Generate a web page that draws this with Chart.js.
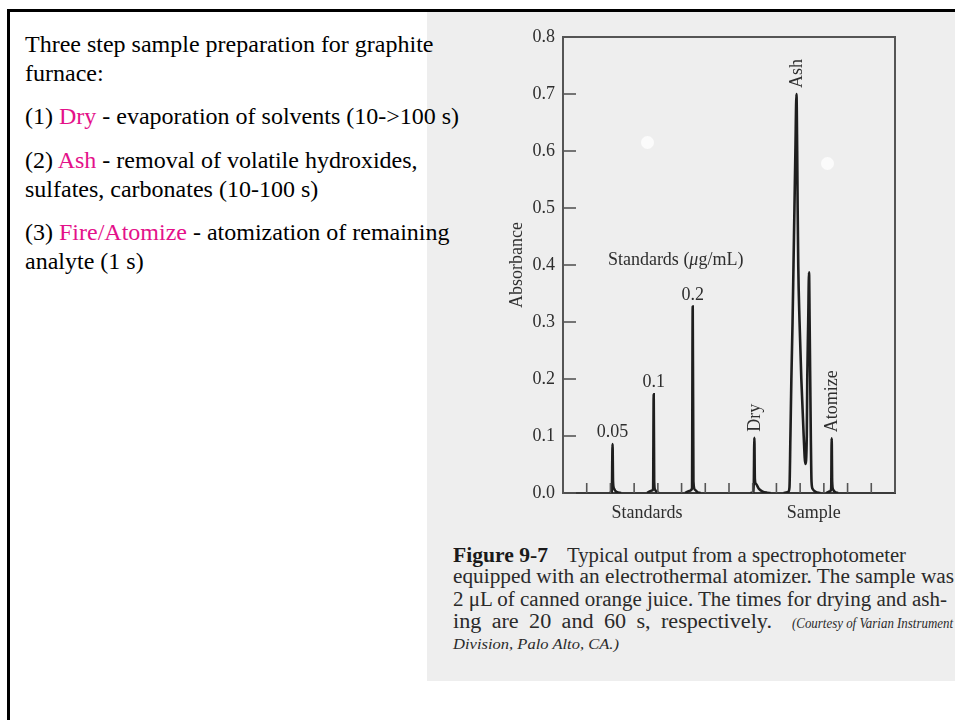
<!DOCTYPE html>
<html>
<head>
<meta charset="utf-8">
<script src="https://cdn.jsdelivr.net/npm/chart.js@4.4.0/dist/chart.umd.min.js"></script>
<style>
  html, body { margin: 0; padding: 0; background: #fff; }
  body { width: 955px; height: 720px; overflow: hidden; position: relative; font-family: "Liberation Serif", "Times New Roman", serif; }
  #frame { position: absolute; left: 7px; top: 9px; width: 1000px; height: 800px; border-top: 3px solid #000; border-left: 3px solid #000; }
  #paper { position: absolute; left: 427px; top: 12px; width: 528px; height: 669px; background: #eeeeee; }
  .spot { position: absolute; width: 13px; height: 13px; border-radius: 50%; background: #fbfbfb; }
  #chartBox { position: absolute; left: 427px; top: 12px; width: 528px; height: 520px; }
  #notes { position: absolute; left: 25px; top: 30px; font-size: 24px; line-height: 29px; color: #000; white-space: nowrap; }
  #notes p { margin: 0 0 14.3px 0; }
  .hl { color: #e4118a; }
  .cap { position: absolute; white-space: nowrap; color: #2a2a2a; font-size: 20.5px; line-height: 22px; transform-origin: 0 0; display: inline-block; }
  .cap.it { font-style: italic; font-size: 15px; }
  .cap.bd { font-weight: bold; color: #1a1a1a; }
</style>
</head>
<body>
<div id="frame"></div>
<div id="paper">
  <div class="spot" style="left:214px; top:124px;"></div>
  <div class="spot" style="left:394px; top:145px;"></div>
</div>
<div id="notes">
  <p>Three step sample preparation for graphite<br>furnace:</p>
  <p>(1) <span class="hl">Dry</span> - evaporation of solvents (10-&gt;100 s)</p>
  <p>(2) <span class="hl">Ash</span> - removal of volatile hydroxides,<br>sulfates, carbonates (10-100 s)</p>
  <p>(3) <span class="hl">Fire/Atomize</span> - atomization of remaining<br>analyte (1 s)</p>
</div>
<div id="chartBox"><canvas id="chart" width="528" height="520"></canvas></div>

<span class="cap bd" data-w="95" style="left:453px; top:543.8px;">Figure 9-7</span>
<span class="cap" data-w="339" style="left:567px; top:543.8px;">Typical output from a spectrophotometer</span>
<span class="cap" data-w="501" style="left:453px; top:565.4px;">equipped with an electrothermal atomizer. The sample was</span>
<span class="cap" data-w="494" style="left:453px; top:587.8px;">2 μL of canned orange juice. The times for drying and ash-</span>
<span class="cap" data-w="319" style="left:453px; top:609.8px;">ing are 20 and 60 s, respectively.</span>
<span class="cap it" data-w="161" style="left:792px; top:611.6px;">(Courtesy of Varian Instrument</span>
<span class="cap it" data-w="166" style="left:453px; top:633.2px;">Division, Palo Alto, CA.)</span>

<script>
// time axis (arbitrary units) and absorbance of the recorder trace; null = pen lifted
const traceX = [
  1.95, 2.06, 2.09, 2.11, 2.15, 2.25, 2.45,
  3.0,
  3.55, 3.72, 3.80, 3.825, 3.845, 3.88, 3.97, 4.05,
  4.5,
  5.15, 5.35, 5.44, 5.47, 5.50, 5.56, 5.68, 5.8,
  7.0,
  7.9, 8.04, 8.07, 8.09, 8.14, 8.25, 8.4, 8.6, 8.75,
  9.0,
  9.3, 9.50, 9.55, 9.59, 9.63, 9.68, 9.72, 9.76, 9.80, 9.845, 9.875, 9.895, 9.92, 9.975,
  10.05, 10.15, 10.22, 10.28, 10.30, 10.34, 10.375, 10.40, 10.45, 10.48, 10.53, 10.65, 10.85,
  11.0,
  11.1, 11.27, 11.31, 11.33, 11.35, 11.39, 11.5, 11.6
];
const traceY = [
  0, 0.002, 0.086, 0.02, 0.008, 0.002, 0,
  null,
  0, 0.004, 0.006, 0.173, 0.02, 0.006, 0.001, 0,
  null,
  0, 0.004, 0.008, 0.327, 0.02, 0.006, 0.001, 0,
  null,
  0, 0.001, 0.097, 0.025, 0.016, 0.008, 0.003, 0.0005, 0,
  null,
  0, 0.002, 0.01, 0.1, 0.2, 0.3, 0.4, 0.5, 0.6, 0.70, 0.6, 0.5, 0.4, 0.3,
  0.2, 0.1, 0.051, 0.1, 0.2, 0.3, 0.387, 0.3, 0.1, 0.02, 0.007, 0.002, 0,
  null,
  0, 0.003, 0.008, 0.096, 0.02, 0.006, 0.001, 0
];

// peak annotations
const peakLabels = ['0.05', '0.1', '0.2', 'Dry', 'Ash', 'Atomize'];
const peakX = [2.09, 3.825, 5.47, 8.07, 9.845, 11.33];
const peakY = [0.086, 0.173, 0.327, 0.097, 0.70, 0.096];

const noteText = ['Standards (', 'μ', 'g/mL)'];
const noteX = 4.75;
const noteY = 0.40;

// x axis: group labels and the small run marks
const groupLabels = ['Standards', 'Sample'];
const groupCenters = [3.54, 10.57];
const runMarks = [1, 2, 3, 4, 5, 6, 7, 8, 9, 10, 11, 12, 13];

const yMin = 0, yMax = 0.8, yStep = 0.1;

const FONT = '"Liberation Serif", "Times New Roman", serif';
const INK = '#2e2e2e';

const points = traceX.map((x, i) => ({ x: x, y: traceY[i] }));

const figureMarks = {
  id: 'figureMarks',
  afterDatasetsDraw(chart) {
    const ctx = chart.ctx;
    const a = chart.chartArea;
    const xs = chart.scales.x, ys = chart.scales.y;
    ctx.save();
    // top and right frame
    ctx.strokeStyle = '#555';
    ctx.lineWidth = 2;
    ctx.beginPath();
    ctx.moveTo(a.left, a.top);
    ctx.lineTo(a.right, a.top);
    ctx.lineTo(a.right, a.bottom);
    ctx.stroke();

    // inward ticks
    ctx.lineWidth = 1.6;
    ys.ticks.forEach(t => {
      const y = ys.getPixelForValue(t.value);
      ctx.beginPath();
      ctx.moveTo(a.left, y);
      ctx.lineTo(a.left + 13, y);
      ctx.stroke();
    });
    runMarks.forEach(v => {
      const x = xs.getPixelForValue(v);
      ctx.beginPath();
      ctx.moveTo(x, a.bottom);
      ctx.lineTo(x, a.bottom - 10);
      ctx.stroke();
    });

    // peak labels
    ctx.fillStyle = INK;
    ctx.font = '18px ' + FONT;
    const vertical = ['Dry', 'Ash', 'Atomize'];
    peakLabels.forEach((txt, i) => {
      const px = xs.getPixelForValue(peakX[i]);
      const py = ys.getPixelForValue(peakY[i]);
      if (vertical.includes(txt)) {
        ctx.save();
        ctx.translate(px + 1, py - 6);
        ctx.rotate(-Math.PI / 2);
        ctx.textAlign = 'left';
        ctx.textBaseline = 'middle';
        ctx.fillText(txt, 0, 0);
        ctx.restore();
      } else {
        ctx.textAlign = 'center';
        ctx.textBaseline = 'alphabetic';
        ctx.fillText(txt, px, py - 7);
      }
    });

    // "Standards (μg/mL)" with italic mu
    const fonts = ['18px ' + FONT, 'italic 18px ' + FONT, '18px ' + FONT];
    let total = 0;
    const widths = noteText.map((s, i) => { ctx.font = fonts[i]; const w = ctx.measureText(s).width; total += w; return w; });
    let cx = xs.getPixelForValue(noteX) - total / 2;
    const cy = ys.getPixelForValue(noteY);
    ctx.textAlign = 'left';
    ctx.textBaseline = 'alphabetic';
    noteText.forEach((s, i) => { ctx.font = fonts[i]; ctx.fillText(s, cx, cy); cx += widths[i]; });
    ctx.restore();
  }
};

new Chart(document.getElementById('chart'), {
  type: 'line',
  data: {
    datasets: [{
      data: points,
      borderColor: '#1e1e1e',
      borderWidth: 2.6,
      pointRadius: 0,
      fill: false,
      spanGaps: false,
      cubicInterpolationMode: 'monotone'
    }]
  },
  options: {
    responsive: false,
    animation: false,
    devicePixelRatio: 1,
    layout: { padding: { left: 70, right: 60, top: 25, bottom: 9 } },
    plugins: { legend: { display: false }, tooltip: { enabled: false } },
    scales: {
      x: {
        type: 'linear',
        min: 0,
        max: 14,
        grid: { display: false, drawTicks: false },
        border: { display: true, color: '#3a3a3a', width: 2 },
        ticks: {
          color: INK,
          font: { family: FONT, size: 18 },
          padding: 9,
          autoSkip: false,
          maxRotation: 0,
          callback: (v, i) => groupLabels[i]
        },
        afterBuildTicks: s => { s.ticks = groupCenters.map(v => ({ value: v })); },
        afterFit: s => { s.height = 30; }
      },
      y: {
        min: yMin,
        max: yMax,
        grid: { display: false, drawTicks: false },
        border: { display: true, color: '#555', width: 2 },
        ticks: {
          stepSize: yStep,
          color: INK,
          font: { family: FONT, size: 18 },
          padding: 8,
          callback: v => v.toFixed(1)
        },
        title: {
          display: true,
          text: 'Absorbance',
          color: INK,
          font: { family: FONT, size: 18 },
          padding: { top: 9, bottom: 0 }
        },
        afterFit: s => { s.width = 66; }
      }
    }
  },
  plugins: [figureMarks]
});

// fit caption lines to the scanned widths: stretch the glyphs a little,
// then open up the word gaps (the book text is justified)
document.querySelectorAll('.cap').forEach(el => {
  const target = +el.dataset.w;
  const w = el.getBoundingClientRect().width;
  const gaps = (el.textContent.match(/ /g) || []).length;
  if (el.classList.contains('it') || gaps === 0) {
    el.style.transform = 'scaleX(' + (target / w) + ')';
    return;
  }
  const s = Math.max(0.95, Math.min(target / w, 1.08));
  el.style.wordSpacing = ((target / s - w) / gaps) + 'px';
  el.style.transform = 'scaleX(' + s + ')';
});
</script>
</body>
</html>
